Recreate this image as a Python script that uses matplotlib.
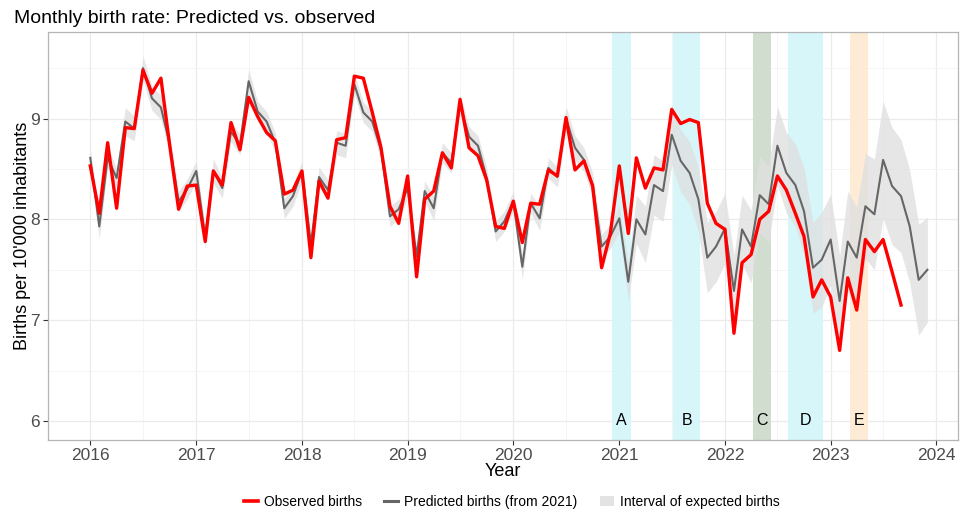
import matplotlib
matplotlib.use('Agg')
import matplotlib.pyplot as plt
import matplotlib.dates as mdates
from matplotlib.lines import Line2D
from matplotlib.patches import Patch
import numpy as np
import pandas as pd

plt.rcParams['font.family'] = ['Liberation Sans', 'DejaVu Sans']

# monthly data, Jan 2016 .. Dec 2023
months = pd.date_range('2016-01-01', periods=96, freq='MS')

observed = [
    8.53, 8.06, 8.76, 8.11, 8.91, 8.90, 9.48, 9.25, 9.40, 8.74, 8.10, 8.33,
    8.34, 7.78, 8.48, 8.34, 8.96, 8.69, 9.21, 9.02, 8.86, 8.78, 8.25, 8.29,
    8.48, 7.62, 8.38, 8.21, 8.79, 8.81, 9.42, 9.40, 9.06, 8.71, 8.13, 7.96,
    8.43, 7.43, 8.20, 8.28, 8.66, 8.51, 9.19, 8.71, 8.63, 8.39, 7.93, 7.91,
    8.18, 7.77, 8.16, 8.15, 8.49, 8.43, 9.01, 8.49, 8.58, 8.33, 7.52, 7.86,
    8.53, 7.86, 8.61, 8.31, 8.51, 8.49, 9.09, 8.95, 8.99, 8.96, 8.16, 7.96,
    7.90, 6.87, 7.57, 7.65, 8.00, 8.08, 8.43, 8.29, 8.06, 7.83, 7.23, 7.40,
    7.23, 6.70, 7.42, 7.10, 7.80, 7.68, 7.80, 7.48, 7.15,
]

predicted = [
    8.61, 7.93, 8.61, 8.41, 8.97, 8.90, 9.50, 9.20, 9.11, 8.75, 8.18, 8.30,
    8.48, 7.82, 8.48, 8.31, 8.87, 8.74, 9.37, 9.07, 8.97, 8.76, 8.11, 8.23,
    8.48, 7.75, 8.42, 8.29, 8.76, 8.73, 9.34, 9.06, 8.97, 8.69, 8.03, 8.10,
    8.31, 7.63, 8.28, 8.11, 8.66, 8.56, 9.14, 8.82, 8.73, 8.41, 7.88, 7.98,
    8.18, 7.53, 8.16, 8.01, 8.51, 8.42, 9.00, 8.71, 8.59, 8.34, 7.73, 7.83,
    8.01, 7.38, 8.00, 7.85, 8.34, 8.28, 8.84, 8.58, 8.46, 8.20, 7.62, 7.73,
    7.91, 7.29, 7.90, 7.73, 8.24, 8.15, 8.73, 8.46, 8.34, 8.08, 7.52, 7.60,
    7.80, 7.19, 7.78, 7.62, 8.13, 8.05, 8.59, 8.33, 8.23, 7.93, 7.40, 7.50,
]

# half width of the interval of expected births
band_half = [
    0.10, 0.12, 0.10, 0.10, 0.14, 0.12, 0.12, 0.12, 0.12, 0.10, 0.10, 0.10,
    0.10, 0.10, 0.12, 0.10, 0.10, 0.10, 0.12, 0.10, 0.10, 0.10, 0.10, 0.10,
    0.10, 0.10, 0.10, 0.10, 0.12, 0.12, 0.10, 0.10, 0.10, 0.10, 0.10, 0.10,
    0.10, 0.10, 0.10, 0.12, 0.10, 0.10, 0.10, 0.10, 0.10, 0.10, 0.10, 0.10,
    0.10, 0.12, 0.10, 0.12, 0.10, 0.10, 0.12, 0.12, 0.12, 0.12, 0.12, 0.12,
    0.13, 0.19, 0.24, 0.28, 0.30, 0.30, 0.30, 0.31, 0.31, 0.32, 0.35, 0.35,
    0.35, 0.35, 0.34, 0.36, 0.38, 0.38, 0.39, 0.40, 0.41, 0.43, 0.45, 0.47,
    0.45, 0.45, 0.50, 0.50, 0.52, 0.55, 0.58, 0.58, 0.56, 0.56, 0.55, 0.52,
]

periods = ['A', 'B', 'C', 'D', 'E']
period_start = ['2020-12-08', '2021-07-06', '2022-04-08', '2022-08-08', '2023-03-09']
period_end = ['2021-02-09', '2021-10-07', '2022-06-09', '2022-12-06', '2023-05-10']
period_colors = ['#d6f6f9', '#d6f6f9', '#d0ddcf', '#d6f6f9', '#fdebd5']


fig = plt.figure(figsize=(9.6, 5.13), dpi=100)
ax = fig.add_axes([0.05, 0.142, 0.948, 0.796])

for lab, s, e, c in zip(periods, period_start, period_end, period_colors):
    s, e = pd.Timestamp(s), pd.Timestamp(e)
    ax.axvspan(s, e, color=c, lw=0, zorder=1)
    ax.text(s + (e - s) / 2, 6.0, lab, ha='center', va='center',
            fontsize=11.5, color='black', zorder=5)

pred = np.array(predicted)
half = np.array(band_half)
ax.fill_between(months, pred - half, pred + half, color='#e0e0e0',
                alpha=0.8, lw=0, zorder=2)
ax.plot(months, predicted, color='#666666', lw=1.5, zorder=3)
ax.plot(months[:len(observed)], observed, color='#ff0000', lw=2.4, zorder=4)

ax.set_ylim(5.81, 9.86)
ax.set_xlim(pd.Timestamp('2015-08-08'), pd.Timestamp('2024-03-16'))
ax.set_yticks([6, 7, 8, 9])
ax.set_yticks([6.5, 7.5, 8.5, 9.5], minor=True)
ax.xaxis.set_major_locator(mdates.YearLocator())
ax.xaxis.set_major_formatter(mdates.DateFormatter('%Y'))
ax.xaxis.set_minor_locator(mdates.MonthLocator(bymonth=7))

ax.grid(which='major', color='#ebebeb', lw=0.9, zorder=0)
ax.grid(which='minor', color='#f4f4f4', lw=0.6, zorder=0)
ax.set_axisbelow(True)
for sp in ax.spines.values():
    sp.set_color('#b5b5b5')
    sp.set_linewidth(0.9)
ax.tick_params(which='major', length=3.5, color='#333333', labelsize=12.5,
               labelcolor='#4d4d4d', pad=2.5)
ax.tick_params(which='minor', length=0)

ax.set_xlabel('Year', fontsize=13, labelpad=0)
ax.set_ylabel("Births per 10'000 inhabitants", fontsize=13)
ax.yaxis.set_label_coords(-0.019, 0.5)
fig.text(0.015, 0.963, 'Monthly birth rate: Predicted vs. observed',
         fontsize=14, ha='left', va='center')

handles = [
    Line2D([], [], color='#ff0000', lw=2.6),
    Line2D([], [], color='#666666', lw=2.2),
    Patch(facecolor='#e3e3e3', edgecolor='none'),
]
labels = ['Observed births', 'Predicted births (from 2021)', 'Interval of expected births']
fig.legend(handles, labels, loc='center', bbox_to_anchor=(0.533, 0.022), ncol=3,
           frameon=False, fontsize=10, handlelength=1.0, handletextpad=0.45,
           columnspacing=1.6)

fig.savefig('out.png', dpi=100)
